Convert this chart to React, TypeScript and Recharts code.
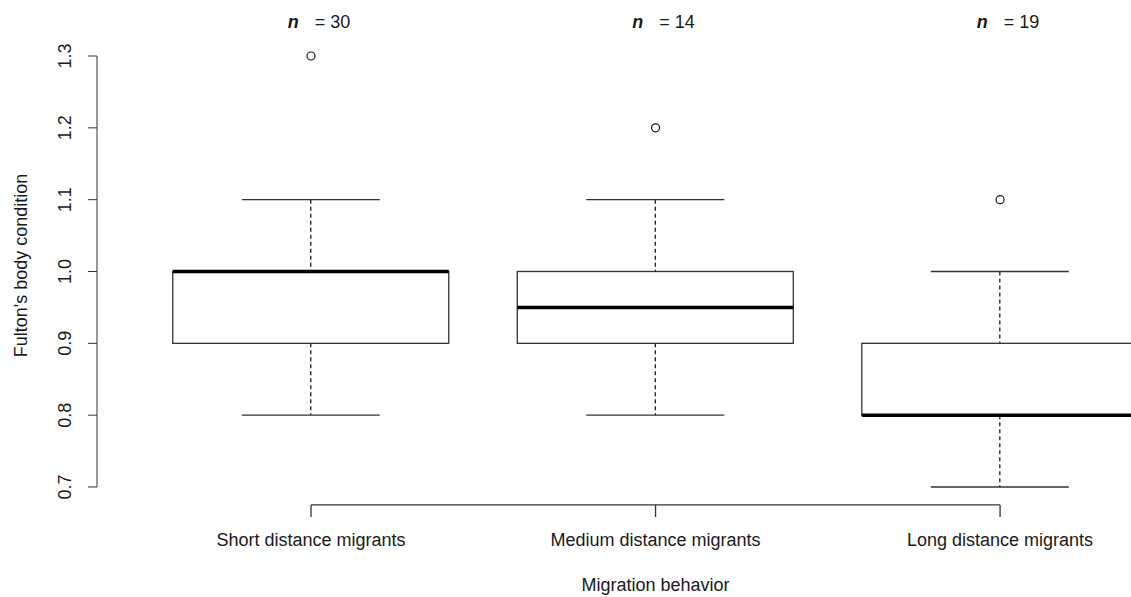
import { Bar, ComposedChart, ReferenceLine, Scatter, XAxis, YAxis } from "recharts";

const groups = ["Short distance migrants", "Medium distance migrants", "Long distance migrants"];
const positions = [1, 2, 3];
const sampleSizes = [30, 14, 19];
const whiskerLow = [0.8, 0.8, 0.7];
const lowerQuartile = [0.9, 0.9, 0.8];
const medians = [1.0, 0.95, 0.8];
const upperQuartile = [1.0, 1.0, 0.9];
const whiskerHigh = [1.1, 1.1, 1.0];
const outliers = [1.3, 1.2, 1.1];
const yTicks = [0.7, 0.8, 0.9, 1.0, 1.1, 1.2, 1.3];

const boxData = groups.map((name, i) => ({
  name,
  pos: positions[i],
  n: sampleSizes[i],
  min: whiskerLow[i],
  q1: lowerQuartile[i],
  median: medians[i],
  q3: upperQuartile[i],
  max: whiskerHigh[i],
  outlier: outliers[i],
}));

const FONT = "'Liberation Sans', Arial, sans-serif";
const INK = "#1a1a1a";

function BoxShape(props: any) {
  const { x, y, width, height, payload } = props;
  const top = Math.min(y, y + height);
  const h = Math.abs(height);
  const ppu = h / (payload.q3 - payload.q1);
  const toY = (v: number) => top + (payload.q3 - v) * ppu;
  const cx = x + width / 2;
  const capHalf = width / 4;
  return (
    <g>
      <line x1={cx} x2={cx} y1={toY(payload.max)} y2={top} stroke={INK} strokeWidth={1.3} strokeDasharray="4 3" />
      <line x1={cx} x2={cx} y1={top + h} y2={toY(payload.min)} stroke={INK} strokeWidth={1.3} strokeDasharray="4 3" />
      <line x1={cx - capHalf} x2={cx + capHalf} y1={toY(payload.max)} y2={toY(payload.max)} stroke="#333" strokeWidth={1.3} />
      <line x1={cx - capHalf} x2={cx + capHalf} y1={toY(payload.min)} y2={toY(payload.min)} stroke="#333" strokeWidth={1.3} />
      <rect x={x} y={top} width={width} height={h} fill="#fff" stroke="#333" strokeWidth={1.3} />
      <line x1={x} x2={x + width} y1={toY(payload.median)} y2={toY(payload.median)} stroke="#000" strokeWidth={3.5} />
      <text x={cx - 23} y={28} fontFamily={FONT} fontSize={18} fill={INK}>
        <tspan fontWeight="bold" fontStyle="italic">n</tspan>
        <tspan dx={16}>= {payload.n}</tspan>
      </text>
    </g>
  );
}

function OutlierShape(props: any) {
  return <circle cx={props.cx} cy={props.cy} r={4} fill="#fff" stroke={INK} strokeWidth={1.2} />;
}

function XTick(props: any) {
  const { x, y, payload } = props;
  const idx = positions.indexOf(payload.value);
  return (
    <g>
      <line x1={x} x2={x} y1={y + 18} y2={y + 30} stroke="#333" strokeWidth={1.3} />
      <text x={x} y={y + 59} textAnchor="middle" fontFamily={FONT} fontSize={18} fill={INK}>
        {groups[idx]}
      </text>
      {idx === 1 && (
        <text x={x} y={y + 104} textAnchor="middle" fontFamily={FONT} fontSize={18} fill={INK}>
          Migration behavior
        </text>
      )}
    </g>
  );
}

function YTick(props: any) {
  const { y, payload } = props;
  const cx = 64.5;
  return (
    <text
      x={cx}
      y={y}
      dy="0.35em"
      textAnchor="middle"
      transform={`rotate(-90, ${cx}, ${y})`}
      fontFamily={FONT}
      fontSize={18}
      fill={INK}
    >
      {Number(payload.value).toFixed(1)}
    </text>
  );
}

function YTitle(props: any) {
  const { viewBox } = props;
  const cx = 21;
  const cy = viewBox.y + viewBox.height / 2 - 6;
  return (
    <text
      x={cx}
      y={cy}
      dy="0.35em"
      textAnchor="middle"
      transform={`rotate(-90, ${cx}, ${cy})`}
      fontFamily={FONT}
      fontSize={18}
      fill={INK}
    >
      Fulton's body condition
    </text>
  );
}

export default function App() {
  return (
    <div
      style={{
        position: "absolute",
        left: 0,
        top: 0,
        width: 1131,
        height: 597,
        overflow: "hidden",
        background: "#fff",
      }}
    >
      <ComposedChart width={1131} height={597} data={boxData} margin={{ top: 56, right: 0, bottom: 0, left: 0 }}>
        <XAxis
          dataKey="pos"
          type="number"
          domain={[0.3788, 3.38]}
          ticks={positions}
          height={110}
          axisLine={false}
          tickLine={false}
          tickSize={0}
          tickMargin={0}
          tick={<XTick />}
        />
        <YAxis
          type="number"
          domain={[0.7, 1.3]}
          ticks={yTicks}
          width={97}
          tickSize={9}
          stroke="#333"
          tick={<YTick />}
          label={<YTitle />}
        />
        <ReferenceLine
          segment={[
            { x: 1, y: 0.675 },
            { x: 3, y: 0.675 },
          ]}
          stroke="#333"
          strokeWidth={1.3}
          ifOverflow="visible"
        />
        <Bar dataKey={(d: any) => [d.q1, d.q3]} barSize={276} shape={<BoxShape />} isAnimationActive={false} />
        <Scatter dataKey="outlier" shape={<OutlierShape />} isAnimationActive={false} />
      </ComposedChart>
    </div>
  );
}
